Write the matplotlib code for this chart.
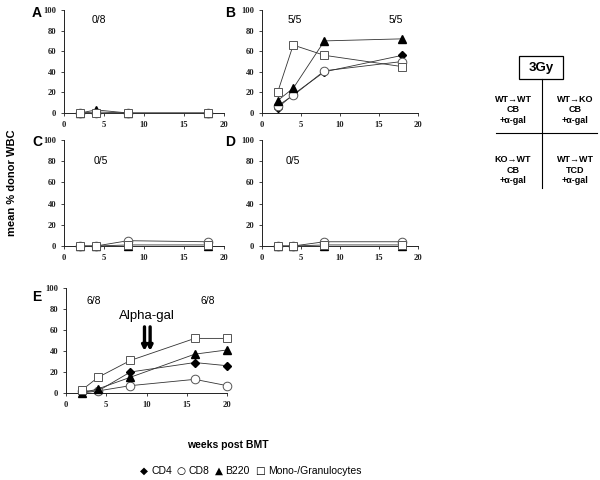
import matplotlib
matplotlib.use("Agg")
import matplotlib.pyplot as plt
from matplotlib.patches import Rectangle
from matplotlib.lines import Line2D

W, H = 600, 480

# ---------------- data ----------------
weeks_abcd = [2, 4, 8, 18]
weeks_e = [2, 4, 8, 16, 20]

a_cd4 = [0, 1, 0, 0]
a_cd8 = [0, 0, 0, 0]
a_b220 = [0, 3, 0, 0]
a_mono = [0, 0, 0, 0]

b_cd4 = [5, 18, 40, 56]
b_cd8 = [7, 17, 41, 50]
b_b220 = [12, 24, 70, 72]
b_mono = [20, 66, 56, 45]

c_cd4 = [0, 0, 0, 0]
c_cd8 = [0, 0, 5, 4]
c_b220 = [0, 0, 0, 0]
c_mono = [0, 0, 1, 1]

d_cd4 = [0, 0, 0, 0]
d_cd8 = [0, 0, 4, 4]
d_b220 = [0, 0, 0, 0]
d_mono = [0, 0, 1, 1]

e_cd4 = [0, 2, 20, 29, 26]
e_cd8 = [2, 2, 7, 13, 7]
e_b220 = [0, 4, 15, 37, 41]
e_mono = [3, 15, 31, 52, 52]

panel_labels = ["A", "B", "C", "D", "E"]
ratios = {"A": ["0/8"], "B": ["5/5", "5/5"], "C": ["0/5"], "D": ["0/5"], "E": ["6/8", "6/8"]}
yticks = [0, 20, 40, 60, 80, 100]
xticks = [0, 5, 10, 15, 20]

table_cells = ["WT\u2192WT\nCB\n+\u03b1-gal", "WT\u2192KO\nCB\n+\u03b1-gal",
               "KO\u2192WT\nCB\n+\u03b1-gal", "WT\u2192WT\nTCD\n+\u03b1-gal"]
legend_symbols = ["\u25c6", "\u25cb", "\u25b2", "\u25a1"]
legend_labels = ["CD4", "CD8", "B220", "Mono-/Granulocytes"]

# ---------------- layout helpers ----------------
def fx(x):
    return x / W

def fy(y):
    return 1 - y / H

fig = plt.figure(figsize=(6, 4.8), dpi=100)
fig.patch.set_facecolor("white")

sans = ["Liberation Sans", "DejaVu Sans"]
serif = ["Liberation Serif", "DejaVu Serif"]

def make_ax(left, right, top, bottom):
    ax = fig.add_axes([fx(left), fy(bottom), fx(right) - fx(left), fy(top) - fy(bottom)])
    ax.set_xlim(0, 20)
    ax.set_ylim(0, 100)
    ax.set_xticks(xticks)
    ax.set_yticks(yticks)
    for s in ["top", "right"]:
        ax.spines[s].set_visible(False)
    for s in ["left", "bottom"]:
        ax.spines[s].set_linewidth(0.7)
        ax.spines[s].set_color("#222222")
    ax.tick_params(direction="out", length=2.5, width=0.6, pad=3, colors="#222222")
    for lab in ax.get_xticklabels() + ax.get_yticklabels():
        lab.set_family(serif)
        lab.set_fontweight("bold")
        lab.set_fontsize(6.2)
    ax.patch.set_alpha(0)
    return ax

def draw_series(ax, x, cd4, cd8, b220, mono):
    lc = "#333333"
    lw = 0.6
    ax.plot(x, cd4, color=lc, lw=lw, marker="D", ms=4.3, mfc="black", mec="black", clip_on=False, zorder=3)
    ax.plot(x, cd8, color=lc, lw=lw, marker="o", ms=6.2, mfc="white", mec="#555555", mew=0.7, clip_on=False, zorder=4)
    ax.plot(x, b220, color=lc, lw=lw, marker="^", ms=6.2, mfc="black", mec="black", clip_on=False, zorder=5)
    ax.plot(x, mono, color=lc, lw=lw, marker="s", ms=6.2, mfc="white", mec="#555555", mew=0.7, clip_on=False, zorder=6)

axA = make_ax(64, 224, 10, 113)
axB = make_ax(262, 418, 10, 113)
axC = make_ax(64, 224, 140, 246)
axD = make_ax(262, 418, 140, 246)
axE = make_ax(66, 227, 288, 393)

draw_series(axA, weeks_abcd, a_cd4, a_cd8, a_b220, a_mono)
draw_series(axB, weeks_abcd, b_cd4, b_cd8, b_b220, b_mono)
draw_series(axC, weeks_abcd, c_cd4, c_cd8, c_b220, c_mono)
draw_series(axD, weeks_abcd, d_cd4, d_cd8, d_b220, d_mono)
draw_series(axE, weeks_e, e_cd4, e_cd8, e_b220, e_mono)

# ratio annotations
rfs = 7.5
axA.text(4.4, 90, ratios["A"][0], fontsize=rfs, family=sans, ha="center", va="center")
axB.text(4.2, 90, ratios["B"][0], fontsize=rfs, family=sans, ha="center", va="center")
axB.text(17.2, 90, ratios["B"][1], fontsize=rfs, family=sans, ha="center", va="center")
axC.text(4.6, 80, ratios["C"][0], fontsize=rfs, family=sans, ha="center", va="center")
axD.text(4.0, 80, ratios["D"][0], fontsize=rfs, family=sans, ha="center", va="center")
axE.text(3.4, 88, ratios["E"][0], fontsize=rfs, family=sans, ha="center", va="center")
axE.text(17.6, 88, ratios["E"][1], fontsize=rfs, family=sans, ha="center", va="center")

# Alpha-gal arrows
axE.text(10.0, 73, "Alpha-gal", fontsize=9.5, family=sans, ha="center", va="center")
for xa in [9.75, 10.45]:
    axE.annotate("", xy=(xa, 40), xytext=(xa, 63),
                 arrowprops=dict(arrowstyle="-|>", lw=2.4, color="black", mutation_scale=7,
                                 shrinkA=0, shrinkB=0))

# panel letters
letter_pos = {"A": (37, 13), "B": (230, 13), "C": (37, 142), "D": (230, 142), "E": (37, 297)}
for lab in panel_labels:
    x, y = letter_pos[lab]
    fig.text(fx(x), fy(y), lab, fontsize=10, fontweight="bold", family=sans, ha="center", va="center")

# axis labels
fig.text(fx(12), fy(183), "mean % donor WBC", fontsize=8, fontweight="bold", family=sans,
         rotation=90, ha="center", va="center")
fig.text(fx(228), fy(445), "weeks post BMT", fontsize=7.5, fontweight="bold", family=sans,
         ha="center", va="center")

# legend line: symbols in DejaVu Sans, labels in Liberation Sans, placed sequentially
renderer = fig.canvas.get_renderer()
xcur = 140.0
ly = 471
for sym, lab in zip(legend_symbols, legend_labels):
    t1 = fig.text(fx(xcur), fy(ly), sym, fontsize=7.5, family=["DejaVu Sans"], ha="left", va="center")
    xcur += t1.get_window_extent(renderer).width + 3
    t2 = fig.text(fx(xcur), fy(ly), lab, fontsize=7.5, family=sans, ha="left", va="center")
    xcur += t2.get_window_extent(renderer).width + 5

# 3Gy table
fig.add_artist(Rectangle((fx(519), fy(79)), fx(563) - fx(519), fy(56) - fy(79),
                         transform=fig.transFigure, fill=False, lw=0.9, edgecolor="black"))
fig.text(fx(541), fy(67.5), "3Gy", fontsize=9.5, fontweight="bold", family=sans, ha="center", va="center")
fig.add_artist(Line2D([fx(541.5), fx(541.5)], [fy(79), fy(188)], transform=fig.transFigure,
                      lw=0.8, color="black"))
fig.add_artist(Line2D([fx(496), fx(597)], [fy(132.5), fy(132.5)], transform=fig.transFigure,
                      lw=0.8, color="black"))
cell_pos = [(513, 110), (575, 110), (513, 170), (575, 170)]
for (cx, cy), txt in zip(cell_pos, table_cells):
    fig.text(fx(cx), fy(cy), txt, fontsize=6.5, fontweight="bold", family=sans,
             ha="center", va="center", linespacing=1.25)

fig.savefig("out.png", dpi=100, facecolor="white")
